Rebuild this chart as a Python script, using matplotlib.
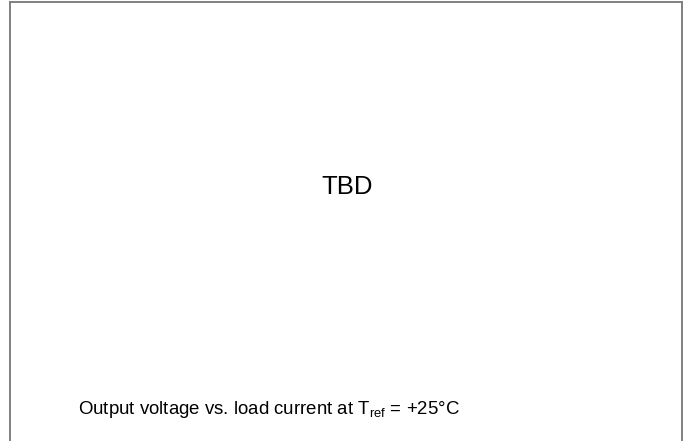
import matplotlib
matplotlib.use("Agg")
import matplotlib.pyplot as plt

plt.rcParams["font.family"] = ["Liberation Sans", "DejaVu Sans"]
plt.rcParams["mathtext.fontset"] = "custom"
plt.rcParams["mathtext.rm"] = "Liberation Sans"
plt.rcParams["mathtext.it"] = "Liberation Sans"

placeholder = "TBD"
caption = r"Output voltage vs. load current at T$_{\mathrm{ref}}$ = +25°C"

fig = plt.figure(figsize=(6.84, 4.41), dpi=100)
fig.patch.set_facecolor("white")

# frame open at the bottom
border = "#808080"
w, h = 684, 441
fig.add_artist(plt.Line2D([9.5 / w, 9.5 / w], [0, 1 - 1.5 / h], color=border, lw=1.4))
fig.add_artist(plt.Line2D([9.5 / w, 681.5 / w], [1 - 1.5 / h, 1 - 1.5 / h], color=border, lw=1.4))
fig.add_artist(plt.Line2D([681.5 / w, 681.5 / w], [0, 1 - 1.5 / h], color=border, lw=1.4))

fig.text(347.5 / w, 1 - 194 / h, placeholder, fontsize=18.5, ha="center", va="baseline",
         color="black", fontweight="medium")
fig.text(78 / w, 1 - 414 / h, caption, fontsize=13.4, ha="left", va="baseline", color="black")

fig.savefig("out.png", dpi=100)
